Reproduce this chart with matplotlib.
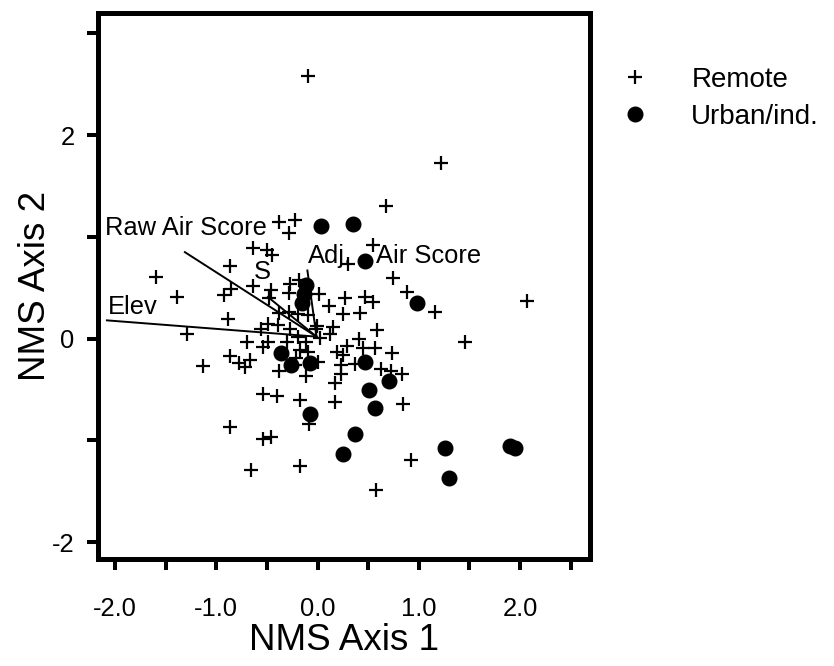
import matplotlib
matplotlib.use("Agg")
import matplotlib.pyplot as plt

plt.rcParams['font.family'] = ['Liberation Sans', 'DejaVu Sans']
plt.rcParams['axes.unicode_minus'] = False

# Remote sites (plus markers)
remote_x = [-0.09, 1.22, 0.68, -0.38, -0.22, -0.28, 0.55, -0.64, -0.50, -0.45,
            -0.86, -1.60, 0.30, 0.75, 0.88, 2.07, -1.39, -0.92, -0.85, -0.64,
            -0.46, -0.28, -0.27, -0.18, 0.01, 0.11, 0.27, 0.47, 0.55, 1.16,
            -0.88, -1.29, -0.70, -0.56, -0.49, -0.39, -0.38, -0.28, -0.19, -0.09,
            -0.27, -0.01, -0.54, -0.49, -0.30, -0.19, -0.11, 0.02, -0.17, -0.09,
            -0.86, -0.78, -0.72, -0.67, -1.13, -0.38, -0.21, -0.22, -0.11, 0.00,
            -0.54, -0.40, -0.17, 0.25, 0.42, -0.02, 0.15, 0.59, 0.29, 0.41,
            0.57, 0.45, 0.74, 0.19, 0.25, 0.23, 0.37, 0.23, 0.63, 0.73,
            0.83, 0.17, 0.17, 0.84, -0.08, -0.86, -0.54, -0.46, 0.92, -0.66,
            -0.17, 0.58, 1.46, -0.48, 0.12]
remote_y = [2.58, 1.73, 1.30, 1.15, 1.17, 1.04, 0.92, 0.89, 0.87, 0.82,
            0.71, 0.61, 0.73, 0.60, 0.46, 0.37, 0.41, 0.43, 0.49, 0.52,
            0.48, 0.45, 0.54, 0.58, 0.44, 0.32, 0.40, 0.41, 0.36, 0.26,
            0.19, 0.05, -0.03, 0.10, 0.14, 0.13, 0.25, 0.26, 0.24, 0.23,
            0.10, 0.12, -0.08, -0.03, -0.03, 0.02, -0.03, 0.01, -0.11, -0.13,
            -0.17, -0.24, -0.28, -0.21, -0.27, -0.32, -0.19, -0.26, -0.37, -0.23,
            -0.54, -0.56, -0.60, 0.24, 0.25, 0.10, 0.11, 0.09, -0.07, 0.00,
            -0.09, -0.09, -0.14, -0.13, -0.16, -0.26, -0.25, -0.35, -0.30, -0.32,
            -0.35, -0.44, -0.62, -0.64, -0.84, -0.87, -0.99, -0.97, -1.19, -1.29,
            -1.25, -1.49, -0.03, 0.40, 0.05]

# Urban/industrial sites (filled circles)
urban_x = [0.03, 0.35, 0.47, -0.11, -0.13, -0.15, 0.98, -0.36, -0.26, -0.07,
           0.47, 0.71, 0.51, 0.57, -0.07, 0.37, 0.25, 1.26, 1.90, 1.95, 1.30]
urban_y = [1.11, 1.13, 0.76, 0.53, 0.44, 0.35, 0.35, -0.14, -0.26, -0.24,
           -0.23, -0.42, -0.50, -0.68, -0.74, -0.94, -1.13, -1.07, -1.05, -1.07, -1.37]

# Biplot vectors (joint plot)
vec_origin = (-0.01, 0.02)
vec_names = ["Elev", "Raw Air Score", "S", "Adj. Air Score"]
vec_x = [-2.08, -1.31, -0.49, -0.10]
vec_y = [0.18, 0.85, 0.41, 0.67]

x_ticks = [-2.0, -1.5, -1.0, -0.5, 0.0, 0.5, 1.0, 1.5, 2.0, 2.5]
x_ticklabels = ["-2.0", "", "-1.0", "", "0.0", "", "1.0", "", "2.0", ""]
y_ticks = [-2, -1, 0, 1, 2, 3]
y_ticklabels = ["-2", "", "0", "", "2", ""]

fig = plt.figure(figsize=(8.34, 6.66), dpi=100)
ax = fig.add_axes([97.5 / 834, 1 - 559 / 666, (590 - 97.5) / 834, (559 - 12.5) / 666])

for vx, vy in zip(vec_x, vec_y):
    ax.plot([vec_origin[0], vx], [vec_origin[1], vy], color='black', lw=1.4, zorder=2)

ax.plot(remote_x, remote_y, linestyle='none', marker='+', markersize=10,
        markeredgewidth=1.6, color='black', label='Remote', zorder=3)
ax.plot(urban_x, urban_y, linestyle='none', marker='o', markersize=10.5,
        color='black', label='Urban/ind.', zorder=3)

tfs = 18.4
ax.text(-2.10, 1.02, "Raw Air Score", fontsize=tfs, ha='left', va='baseline', zorder=1)
ax.text(-2.07, 0.24, "Elev", fontsize=tfs, ha='left', va='baseline', zorder=1)
ax.text(-0.63, 0.59, "S", fontsize=tfs, ha='left', va='baseline', zorder=1)
ax.text(-0.09, 0.74, "Adj.", fontsize=tfs, ha='left', va='baseline', zorder=1)
ax.text(0.58, 0.74, "Air Score", fontsize=tfs, ha='left', va='baseline', zorder=1)

ax.set_xlim(-2.173, 2.691)
ax.set_ylim(-2.164, 3.204)

ax.set_xticks(x_ticks)
ax.set_xticklabels(x_ticklabels)
ax.set_yticks(y_ticks)
ax.set_yticklabels(y_ticklabels)
ax.tick_params(axis='x', direction='out', length=8.2, width=2.9, pad=19, labelsize=18.4)
ax.tick_params(axis='y', direction='out', length=8.2, width=2.9, pad=8.3, labelsize=18.4)
for sp in ax.spines.values():
    sp.set_linewidth(3.6)

ax.set_xlabel("NMS Axis 1", fontsize=26.5)
ax.set_ylabel("NMS Axis 2", fontsize=26.5)
ax.xaxis.set_label_coords(0.5, -0.117)
ax.yaxis.set_label_coords(-0.091, 0.5)

leg = ax.legend(loc='upper left', bbox_to_anchor=(620.8 / 834, 1 - 67 / 666),
                bbox_transform=fig.transFigure, frameon=False, fontsize=20,
                handlelength=1.0, handletextpad=1.54, borderpad=0,
                borderaxespad=0, labelspacing=0.38)

fig.savefig("out.png", dpi=100)
